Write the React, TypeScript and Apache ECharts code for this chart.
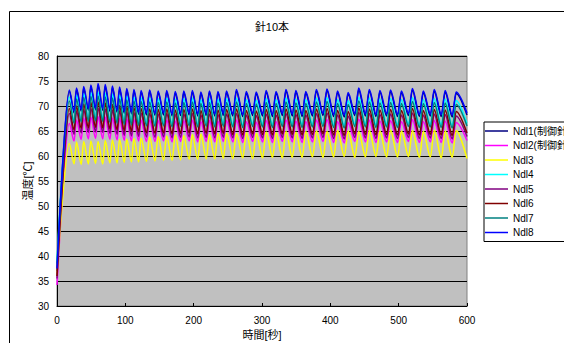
import React, { useEffect, useRef } from "react";
import * as echarts from "echarts";

const TITLE = "針10本";
const X_NAME = "時間[秒]";
const Y_NAME = "温度[℃]";
const SERIES_NAMES = ["Ndl1(制御針)", "Ndl2(制御針)", "Ndl3", "Ndl4", "Ndl5", "Ndl6", "Ndl7", "Ndl8"];
const COLORS = ["#000080", "#FF00FF", "#FFFF00", "#00FFFF", "#800080", "#800000", "#008080", "#0000FF"];

// times (s) of peaks and of the troughs that precede each following peak
const PEAK_T = [18, 28.5, 39, 49.5, 60, 70.5, 81, 91.5, 102, 112.5, 123, 135.5, 148, 160.5, 173, 185.5, 198, 210.5, 223, 235.5, 248, 262.5, 277, 291.5, 306, 320.5, 335, 349.5, 364, 379.5, 395, 410.5, 426, 441.5, 457, 472.5, 488, 504, 520, 536, 552, 568, 584];
const TROUGH_T = [25, 35.5, 46, 56.5, 67, 77.5, 88, 98.5, 109, 119.5, 131, 143.5, 156, 168.5, 181, 193.5, 206, 218.5, 231, 243.5, 257.5, 272, 286.5, 301, 315.5, 330, 344.5, 359, 374, 389.5, 405, 420.5, 436, 451.5, 467, 482.5, 498.5, 514.5, 530.5, 546.5, 562.5, 578.5];
const END_T = 600;

const START = [37.0, 34.2, 36.3, 39.0, 35.5, 36.0, 38.5, 37.5];
const END_V = [68.2, 63.1, 59.5, 66.5, 63.9, 64.6, 66.0, 68.6];

const NDL1_PEAK = [72.9, 73.3, 73.5, 73.8, 74.1, 73.9, 73.7, 73.4, 73.2, 73.0, 72.8, 72.9, 72.7, 72.8, 72.6, 72.7, 72.8, 72.5, 72.7, 72.6, 72.7, 73.0, 72.6, 72.5, 72.8, 72.6, 73.0, 72.8, 72.6, 73.0, 73.1, 72.7, 72.4, 73.2, 73.0, 72.8, 72.9, 72.7, 73.2, 72.7, 73.0, 72.8, 72.5];
const NDL1_TROUGH = [68.6, 68.9, 69.1, 69.2, 69.1, 68.9, 68.7, 68.5, 68.4, 68.3, 68.2, 68.1, 68.2, 68.0, 68.1, 68.2, 68.0, 68.1, 68.0, 68.1, 68.0, 67.9, 68.1, 68.0, 67.9, 68.1, 68.0, 67.9, 68.0, 68.1, 67.9, 67.8, 68.1, 68.0, 67.9, 68.0, 67.9, 68.1, 67.9, 68.0, 67.9, 67.8];

const NDL2_PEAK = [66.5, 67.2, 67.6, 67.8, 67.9, 67.8, 67.6, 67.5, 67.4, 67.3, 67.2, 67.2, 67.1, 67.2, 67.0, 67.1, 67.2, 66.9, 67.1, 67.0, 67.1, 67.2, 66.9, 66.8, 67.1, 66.9, 67.2, 67.0, 66.9, 67.2, 67.3, 66.9, 66.7, 67.4, 67.2, 67.0, 67.1, 66.9, 67.3, 66.9, 67.1, 67.0, 66.7];
const NDL2_TROUGH = [63.0, 63.3, 63.4, 63.5, 63.4, 63.3, 63.2, 63.1, 63.0, 63.0, 62.9, 62.9, 63.0, 62.8, 62.9, 63.0, 62.8, 62.9, 62.8, 62.9, 62.8, 62.7, 62.9, 62.8, 62.7, 62.9, 62.8, 62.7, 62.8, 62.9, 62.7, 62.6, 62.9, 62.8, 62.7, 62.8, 62.7, 62.9, 62.7, 62.8, 62.7, 62.6];

const NDL3_PEAK = [62.5, 62.8, 62.9, 63.0, 62.9, 63.1, 63.2, 63.3, 63.4, 63.5, 63.6, 63.8, 63.9, 64.0, 64.2, 64.1, 64.3, 64.4, 64.3, 64.5, 64.6, 64.5, 64.7, 64.6, 64.8, 64.7, 64.9, 64.8, 64.9, 65.0, 64.9, 65.1, 65.0, 64.9, 65.1, 65.0, 65.2, 65.0, 65.1, 64.9, 65.2, 65.0, 65.1];
const NDL3_TROUGH = [58.4, 58.3, 58.4, 58.5, 58.4, 58.6, 58.6, 58.7, 58.8, 58.8, 58.9, 59.0, 59.1, 59.1, 59.2, 59.3, 59.3, 59.4, 59.4, 59.5, 59.5, 59.6, 59.5, 59.6, 59.7, 59.6, 59.7, 59.7, 59.8, 59.7, 59.8, 59.9, 59.7, 59.8, 59.9, 59.8, 59.8, 59.9, 59.7, 59.8, 59.6, 59.7];

const NDL4_PEAK = [71.8, 72.2, 72.5, 72.7, 72.8, 72.6, 72.4, 72.2, 72.0, 71.8, 71.7, 71.6, 71.5, 71.6, 71.4, 71.5, 71.6, 71.3, 71.5, 71.4, 71.5, 71.6, 71.3, 71.2, 71.5, 71.3, 71.6, 71.4, 71.3, 71.6, 71.7, 71.3, 71.1, 71.8, 71.6, 71.4, 71.5, 71.3, 71.7, 71.3, 71.5, 71.4, 71.1];
const NDL4_TROUGH = [67.0, 67.3, 67.4, 67.5, 67.4, 67.2, 67.0, 66.8, 66.7, 66.6, 66.5, 66.4, 66.5, 66.3, 66.4, 66.5, 66.3, 66.4, 66.3, 66.4, 66.3, 66.2, 66.4, 66.3, 66.2, 66.4, 66.3, 66.2, 66.3, 66.4, 66.2, 66.1, 66.4, 66.3, 66.2, 66.3, 66.2, 66.4, 66.2, 66.3, 66.2, 66.1];

const NDL5_PEAK = [68.5, 69.0, 69.3, 69.5, 69.6, 69.4, 69.2, 69.0, 68.8, 68.7, 68.6, 68.5, 68.4, 68.5, 68.3, 68.4, 68.5, 68.2, 68.4, 68.3, 68.4, 68.5, 68.2, 68.1, 68.4, 68.2, 68.5, 68.3, 68.2, 68.5, 68.6, 68.2, 68.0, 68.7, 68.5, 68.3, 68.4, 68.2, 68.6, 68.2, 68.4, 68.3, 68.0];
const NDL5_TROUGH = [64.3, 64.6, 64.7, 64.8, 64.7, 64.5, 64.3, 64.1, 64.0, 63.9, 63.8, 63.7, 63.8, 63.6, 63.7, 63.8, 63.6, 63.7, 63.6, 63.7, 63.6, 63.5, 63.7, 63.6, 63.5, 63.7, 63.6, 63.5, 63.6, 63.7, 63.5, 63.4, 63.7, 63.6, 63.5, 63.6, 63.5, 63.7, 63.5, 63.6, 63.5, 63.4];

const NDL6_PEAK = [69.5, 70.0, 70.4, 70.7, 70.8, 70.6, 70.3, 70.1, 69.9, 69.7, 69.5, 69.4, 69.3, 69.4, 69.2, 69.3, 69.4, 69.1, 69.3, 69.2, 69.3, 69.4, 69.1, 69.0, 69.3, 69.1, 69.4, 69.2, 69.1, 69.4, 69.5, 69.1, 68.9, 69.6, 69.4, 69.2, 69.3, 69.1, 69.5, 69.1, 69.3, 69.2, 68.9];
const NDL6_TROUGH = [65.2, 65.5, 65.6, 65.7, 65.6, 65.4, 65.2, 65.0, 64.9, 64.8, 64.6, 64.5, 64.6, 64.4, 64.5, 64.6, 64.4, 64.5, 64.4, 64.5, 64.3, 64.2, 64.4, 64.3, 64.2, 64.4, 64.3, 64.2, 64.3, 64.4, 64.2, 64.1, 64.4, 64.3, 64.2, 64.3, 64.2, 64.4, 64.2, 64.3, 64.2, 64.1];

const NDL7_PEAK = [71.0, 71.4, 71.7, 71.9, 72.0, 71.8, 71.6, 71.4, 71.2, 71.0, 70.9, 70.8, 70.7, 70.8, 70.6, 70.7, 70.8, 70.5, 70.7, 70.6, 70.7, 70.8, 70.5, 70.4, 70.7, 70.5, 70.8, 70.6, 70.5, 70.8, 70.9, 70.5, 70.3, 71.0, 70.8, 70.6, 70.7, 70.5, 70.9, 70.5, 70.7, 70.6, 70.3];
const NDL7_TROUGH = [66.5, 66.8, 66.9, 67.0, 66.9, 66.7, 66.5, 66.3, 66.2, 66.1, 66.0, 65.9, 66.0, 65.8, 65.9, 66.0, 65.8, 65.9, 65.8, 65.9, 65.8, 65.7, 65.9, 65.8, 65.7, 65.9, 65.8, 65.7, 65.8, 65.9, 65.7, 65.6, 65.9, 65.8, 65.7, 65.8, 65.7, 65.9, 65.7, 65.8, 65.7, 65.6];

const NDL8_PEAK = [73.2, 73.6, 73.9, 74.2, 74.5, 74.3, 74.0, 73.8, 73.5, 73.3, 73.1, 73.2, 73.0, 73.1, 72.9, 73.0, 73.1, 72.8, 73.0, 72.9, 73.0, 73.3, 72.9, 72.8, 73.1, 72.9, 73.3, 73.1, 72.9, 73.3, 73.4, 73.0, 72.7, 73.6, 73.3, 73.1, 73.2, 73.0, 73.5, 73.0, 73.3, 73.1, 72.8];
const NDL8_TROUGH = [69.0, 69.3, 69.5, 69.6, 69.5, 69.3, 69.1, 68.9, 68.8, 68.7, 68.6, 68.5, 68.6, 68.4, 68.5, 68.6, 68.4, 68.5, 68.4, 68.5, 68.4, 68.3, 68.5, 68.4, 68.3, 68.5, 68.4, 68.3, 68.4, 68.5, 68.3, 68.2, 68.5, 68.4, 68.3, 68.4, 68.3, 68.5, 68.3, 68.4, 68.3, 68.2];

const PEAKS = [NDL1_PEAK, NDL2_PEAK, NDL3_PEAK, NDL4_PEAK, NDL5_PEAK, NDL6_PEAK, NDL7_PEAK, NDL8_PEAK];
const TROUGHS = [NDL1_TROUGH, NDL2_TROUGH, NDL3_TROUGH, NDL4_TROUGH, NDL5_TROUGH, NDL6_TROUGH, NDL7_TROUGH, NDL8_TROUGH];

function buildSeriesData(k: number): number[][] {
  const pts: number[][] = [[0, START[k]], [PEAK_T[0], PEAKS[k][0]]];
  for (let i = 1; i < PEAK_T.length; i++) {
    pts.push([TROUGH_T[i - 1], TROUGHS[k][i - 1]]);
    pts.push([PEAK_T[i], PEAKS[k][i]]);
  }
  pts.push([END_T, END_V[k]]);
  return pts;
}

const FONT = "'Liberation Sans', 'Noto Sans CJK JP', sans-serif";

export default function App() {
  const ref = useRef<HTMLDivElement>(null);
  useEffect(() => {
    if (!ref.current) return;
    const chart = echarts.init(ref.current, undefined, { renderer: "svg" });
    chart.setOption({
      animation: false,
      backgroundColor: "#ffffff",
      textStyle: { fontFamily: FONT },
      graphic: [
        {
          type: "rect",
          shape: { x: 9.5, y: 11.5, width: 700, height: 500 },
          style: { fill: "none", stroke: "#000000", lineWidth: 1 },
          silent: true,
          z: -10,
        },
        {
          type: "text",
          x: 272,
          y: 27,
          style: {
            text: TITLE,
            fill: "#000000",
            font: `11px ${FONT}`,
            textAlign: "center",
            textVerticalAlign: "middle",
          },
        },
      ],
      grid: {
        left: 57,
        top: 56,
        width: 410,
        height: 250,
        outerBoundsMode: "none",
        containLabel: false,
        show: true,
        backgroundColor: "#c0c0c0",
        borderColor: "#808080",
        borderWidth: 1,
      },
      legend: {
        orient: "vertical",
        left: 484,
        top: 122,
        data: SERIES_NAMES.map((name) => ({ name, icon: "rect" })),
        backgroundColor: "#ffffff",
        borderColor: "#000000",
        borderWidth: 1,
        borderRadius: 0,
        padding: [3, 4, 3, 1],
        itemGap: 2.5,
        itemWidth: 23,
        itemHeight: 1.5,
        textStyle: { fontSize: 10, color: "#000000", fontFamily: FONT, lineHeight: 12 },
      },
      xAxis: {
        type: "value",
        min: 0,
        max: 600,
        interval: 100,
        name: X_NAME,
        nameLocation: "middle",
        nameGap: 23,
        nameMoveOverlap: false,
        nameTextStyle: { fontSize: 11, color: "#000000", fontFamily: FONT },
        axisLine: { show: true, onZero: false, lineStyle: { color: "#000000", width: 1 } },
        axisTick: { show: true, inside: true, length: 3, lineStyle: { color: "#000000" } },
        axisLabel: { fontSize: 10, color: "#000000", margin: 9, fontFamily: FONT },
        splitLine: { show: false },
      },
      yAxis: {
        type: "value",
        min: 30,
        max: 80,
        interval: 5,
        name: Y_NAME,
        nameLocation: "middle",
        nameGap: 24,
        nameMoveOverlap: false,
        nameRotate: 90,
        nameTextStyle: { fontSize: 11, color: "#000000", fontFamily: FONT },
        axisLine: { show: true, lineStyle: { color: "#000000", width: 1 } },
        axisTick: { show: false },
        axisLabel: { fontSize: 10, color: "#000000", margin: 8, fontFamily: FONT },
        splitLine: { show: true, lineStyle: { color: "#000000", width: 1 } },
      },
      series: SERIES_NAMES.map((name, k) => ({
        name,
        type: "line",
        data: buildSeriesData(k),
        symbol: "none",
        smooth: 0.3,
        smoothMonotone: "x",
        color: COLORS[k],
        lineStyle: { color: COLORS[k], width: 1.5 },
      })),
    });
    return () => chart.dispose();
  }, []);
  return (
    <div
      ref={ref}
      style={{ position: "absolute", left: 0, top: 0, width: 564, height: 343 }}
    />
  );
}
